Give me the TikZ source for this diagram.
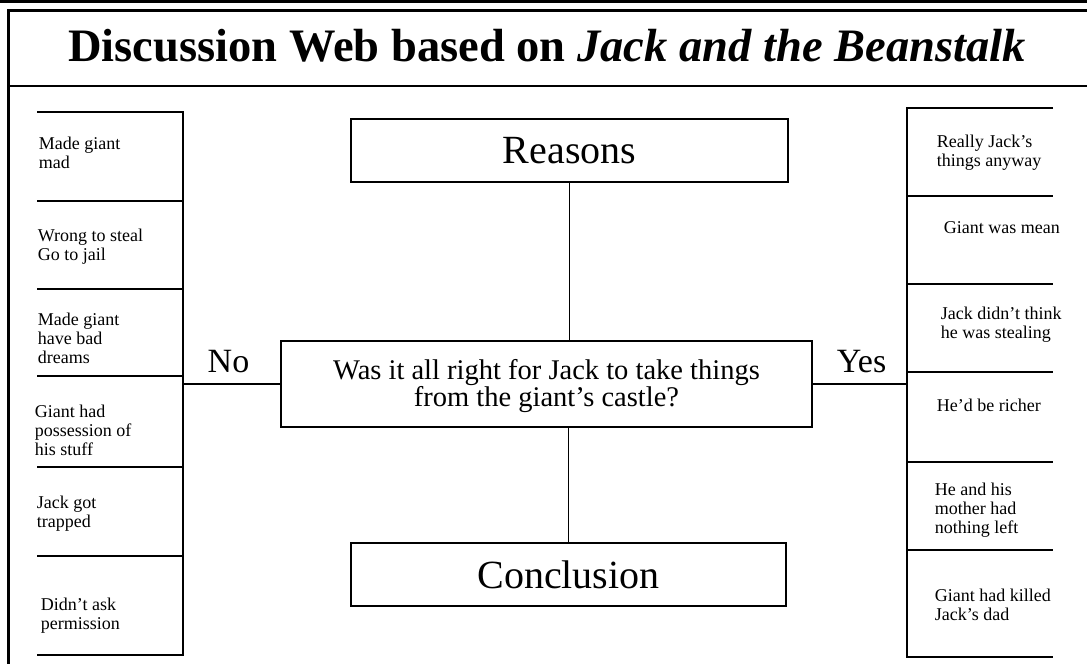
\documentclass[tikz,border=0pt]{standalone}
\usepackage{fontspec}
\setmainfont{Liberation Serif}
\usepackage{tikz}

\begin{document}
\begin{tikzpicture}[x=1pt, y=-1pt, line width=1.8pt,
  box/.style={draw, line width=1.8pt, inner sep=0pt},
  item/.style={anchor=north west, inner sep=0pt, align=left, font=\fontsize{18}{19}\selectfont}]
  \useasboundingbox (0,0) rectangle (1087,664);

  % Frame
  \draw[line width=3pt] (0,1.5) -- (1087,1.5);
  \draw[line width=3pt] (1087,10) -- (8,10) -- (8,664);
  \draw (8,86) -- (1087,86);

  % Title
  \node[anchor=base, font=\fontsize{46.5}{50}\selectfont\bfseries] (T) at (547,61)
    {Discussion Web based on \textit{Jack and the Beanstalk}};

  % Nodes
  \node[box, minimum width=437pt, minimum height=63pt, font=\fontsize{40}{44}\selectfont] (R) at (569.5,150.5) {Reasons};
  \node[box, minimum width=531pt, minimum height=86pt, align=center, font=\fontsize{28.5}{27}\selectfont] (Q) at (546.5,384)
    {\rule{0pt}{25pt}Was it all right for Jack to take things\\from the giant's castle?};
  \node[box, minimum width=435pt, minimum height=63pt, font=\fontsize{40}{44}\selectfont] (C) at (568.5,574.5) {Conclusion};
  \node[anchor=base, font=\fontsize{34}{40}\selectfont] (N) at (228.5,372) {No};
  \node[anchor=base, font=\fontsize{34}{40}\selectfont] (Y) at (861.5,372) {Yes};

  % Left column
  \draw (37,112) -- (183,112) -- (183,655) -- (37,655);
  \draw (37,201) -- (183,201) (37,289) -- (183,289) (37,376) -- (183,376)
        (37,467) -- (183,467) (37,556) -- (183,556);
  \node[item] (N1) at (38,136) {Made giant\\mad};
  \node[item] (N2) at (37,228) {Wrong to steal\\Go to jail};
  \node[item] (N3) at (37,312) {Made giant\\have bad\\dreams};
  \node[item] (N4) at (34,404) {Giant had\\possession of\\his stuff};
  \node[item] (N5) at (36,495) {Jack got\\trapped};
  \node[item] (N6) at (40,597) {Didn't ask\\permission};

  % Right column
  \draw (1053,108) -- (907,108) -- (907,657) -- (1053,657);
  \draw (907,196) -- (1053,196) (907,284) -- (1053,284) (907,372) -- (1053,372)
        (907,462) -- (1053,462) (907,550) -- (1053,550);
  \node[item] (Y1) at (936,134) {Really Jack's\\things anyway};
  \node[item] (Y2) at (943,221) {Giant was mean};
  \node[item] (Y3) at (940,306) {Jack didn't think\\he was stealing};
  \node[item] (Y4) at (936,398) {He'd be richer};
  \node[item] (Y5) at (934,482) {He and his\\mother had\\nothing left};
  \node[item] (Y6) at (934,588) {Giant had killed\\Jack's dad};

  % Connectors
  \coordinate (L) at (183,384);
  \coordinate (E) at (907,384);
  \draw (Q.west) -- (L);
  \draw (Q.east) -- (E);
  \draw (R.south) -- (R.south |- Q.north);
  \draw (C.north) -- (C.north |- Q.south);
\end{tikzpicture}
\end{document}
